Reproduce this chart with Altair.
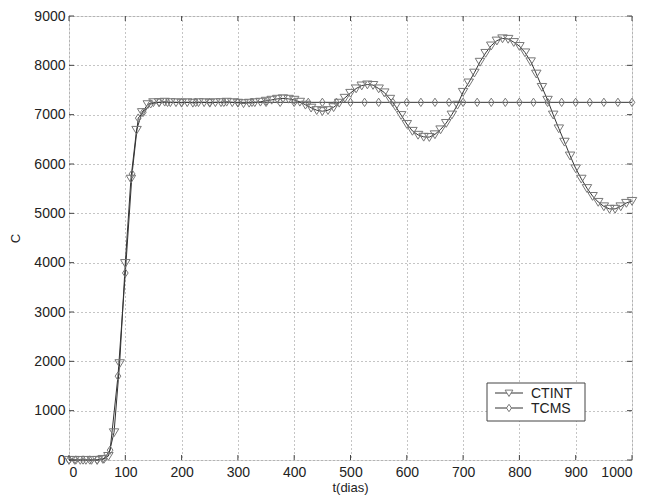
import altair as alt
import pandas as pd

# ---- data ----
t_ctint = list(range(0, 1001, 10))
c_ctint = [
    0, 0, 0, 0, 0, 0, 20, 80, 560, 1960,
    3990, 5700, 6690, 7050, 7210, 7250, 7250, 7260, 7250, 7250,
    7240, 7250, 7240, 7250, 7250, 7240, 7250, 7250, 7260, 7250,
    7240, 7230, 7240, 7250, 7260, 7280, 7300, 7320, 7330, 7320,
    7300, 7260, 7200, 7140, 7090, 7070, 7090, 7150, 7240, 7340,
    7440, 7530, 7590, 7610, 7600, 7530, 7450, 7320, 7170, 6990,
    6810, 6670, 6590, 6550, 6545, 6600, 6700, 6830, 7000, 7200,
    7460, 7650, 7850, 8070, 8250, 8400, 8500, 8545, 8535, 8470,
    8390, 8260, 8080, 7830, 7560, 7300, 7000, 6720, 6450, 6170,
    5910, 5700, 5510, 5350, 5230, 5140, 5090, 5090, 5140, 5210,
    5250,
]
t_tcms = [0, 12, 25, 37, 50, 62, 73, 87, 100, 112, 123, 132, 145, 160,
          175, 200, 225, 250, 275, 300, 325, 350, 375, 400, 425, 450, 475,
          500, 525, 550, 575, 600, 625, 650, 675, 700, 725, 750, 775, 800,
          825, 850, 875, 900, 925, 950, 975, 1000]
c_tcms = [0, 0, 0, 0, 0, 20, 200, 1700, 3790, 5800, 6930, 7050, 7220, 7250,
          7250, 7250, 7250, 7250, 7250, 7250, 7250, 7250, 7250, 7250, 7250, 7250, 7250,
          7250, 7250, 7250, 7250, 7250, 7250, 7250, 7250, 7250, 7250, 7250, 7250, 7250,
          7250, 7250, 7250, 7250, 7250, 7250, 7250, 7250]
series_names = ["CTINT", "TCMS"]
x_ticks = [0, 100, 200, 300, 400, 500, 600, 700, 800, 900, 1000]
y_ticks = [0, 1000, 2000, 3000, 4000, 5000, 6000, 7000, 8000, 9000]

df = pd.concat([
    pd.DataFrame({"t": t_ctint, "c": c_ctint, "serie": "CTINT"}),
    pd.DataFrame({"t": t_tcms, "c": c_tcms, "serie": "TCMS"}),
], ignore_index=True)

W, H = 563, 444
FONT = "Liberation Sans"

TRI = "M-1,-0.75L1,-0.75L0,0.9Z"
DIA = "M0,-1L0.68,0L0,1L-0.68,0Z"
SHAPES = {"CTINT": (TRI, 90, 60), "TCMS": (DIA, 70, 55)}

xs = alt.Scale(domain=[0, 1000], nice=False, zero=False)
ys = alt.Scale(domain=[0, 9000], nice=False, zero=False)

x_enc = alt.X("t:Q", scale=xs, axis=alt.Axis(
    values=x_ticks, format="d", title="t(dias)", grid=True, gridDash=[1, 3],
    gridColor="#8a8a8a", gridOpacity=1, ticks=False, domain=False, labelFont=FONT,
    labelFontSize=14, labelColor="#222", labelPadding=5, titleFont=FONT, titleFontSize=13,
    titleFontWeight="normal", titleColor="#222", titleX=281, titleY=21,
    titleBaseline="top"))
y_enc = alt.Y("c:Q", scale=ys, axis=alt.Axis(
    values=y_ticks, format="d", title="C", grid=True, gridDash=[1, 3],
    gridColor="#8a8a8a", gridOpacity=1, ticks=False, domain=False, labelFont=FONT,
    labelFontSize=14, labelColor="#222", labelPadding=4, titleFont=FONT, titleFontSize=13,
    titleFontWeight="normal", titleColor="#222", titleX=-54, titleY=222,
    titleAngle=270, titleBaseline="middle"))

base = alt.Chart(df)
lines = base.mark_line(color="#333", strokeWidth=1).encode(
    x=x_enc, y=y_enc, detail="serie:N", order="t:Q")
layers = [lines]
for name in series_names:
    path, size, _ = SHAPES[name]
    layers.append(base.transform_filter(alt.datum.serie == name).mark_point(
        shape=path, size=size, filled=False, color="#777", strokeWidth=1, opacity=1
    ).encode(x="t:Q", y="c:Q"))

tx = alt.Chart(pd.DataFrame({"v": x_ticks}))
ty = alt.Chart(pd.DataFrame({"v": y_ticks}))
tick_col = "#444"
layers += [
    tx.mark_rule(color=tick_col).encode(x="v:Q", y=alt.value(H), y2=alt.value(H - 5)),
    tx.mark_rule(color=tick_col).encode(x="v:Q", y=alt.value(0), y2=alt.value(5)),
    ty.mark_rule(color=tick_col).encode(y="v:Q", x=alt.value(0), x2=alt.value(5)),
    ty.mark_rule(color=tick_col).encode(y="v:Q", x=alt.value(W), x2=alt.value(W - 5)),
]

# ---- legend box (MATLAB style: line through marker) ----
LX, LY, LW, LH = 418, 367, 98, 38
one = alt.Chart(pd.DataFrame({"k": [0]}))
layers.append(one.mark_rect(fill="white", stroke="#444", strokeWidth=1).encode(
    x=alt.value(LX), x2=alt.value(LX + LW), y=alt.value(LY), y2=alt.value(LY + LH)))
for i, name in enumerate(series_names):
    ry = LY + 10 + 15 * i
    path, _, lsize = SHAPES[name]
    row = alt.Chart(pd.DataFrame({"serie": [name]}))
    layers.append(row.mark_rule(color="#333", strokeWidth=1).encode(
        x=alt.value(LX + 8), x2=alt.value(LX + 36), y=alt.value(ry)))
    layers.append(row.mark_point(shape=path, size=lsize, filled=True, fill="white",
                                 stroke="#777", strokeWidth=1, opacity=1).encode(
        x=alt.value(LX + 22), y=alt.value(ry)))
    layers.append(row.mark_text(align="left", baseline="middle", font=FONT, fontSize=14,
                                color="#222").encode(
        x=alt.value(LX + 44), y=alt.value(ry + 1), text="serie:N"))

chart = alt.layer(*layers).properties(
    width=W, height=H,
    autosize=alt.AutoSizeParams(type="none"),
    padding={"left": 61, "top": 8, "right": 13, "bottom": 36},
).configure_view(stroke="#444", strokeWidth=1).configure(background="white")

chart.save("out.html", embed_options={"renderer": "svg", "actions": False})
